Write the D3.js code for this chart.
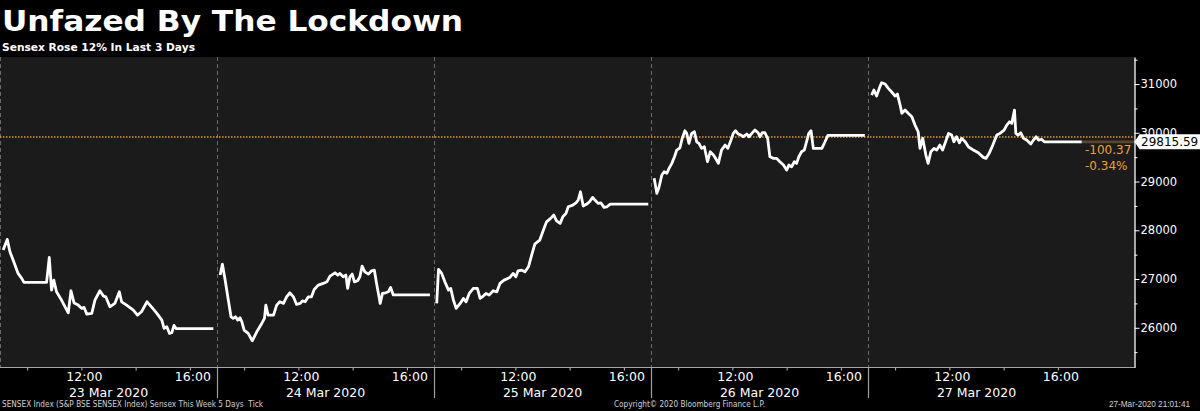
<!DOCTYPE html>
<html><head><meta charset="utf-8">
<script src="https://cdn.jsdelivr.net/npm/d3@7"></script>
<style>body{margin:0;background:#000;} svg{display:block;}</style>
</head><body>
<svg id="c" width="1200" height="411"></svg>
<script>
// ---------- data ----------
const days = ["23 Mar 2020","24 Mar 2020","25 Mar 2020","26 Mar 2020","27 Mar 2020"];

const day1 = [["09:07",27594],["09:16",27813],["09:22",27559],["09:29",27388],["09:40",27115],["09:48",27013],["09:53",26931],["10:43",26931],["10:49",27444],["10:54",26773],["10:59",26978],["11:05",26738],["11:16",26568],["11:31",26307],["11:37",26759],["11:44",26506],["11:53",26465],["12:01",26397],["12:06",26418],["12:12",26280],["12:23",26295],["12:30",26568],["12:41",26759],["12:49",26650],["12:54",26635],["13:03",26430],["13:14",26500],["13:24",26738],["13:29",26533],["13:40",26465],["13:55",26362],["14:04",26260],["14:13",26328],["14:25",26533],["14:36",26418],["14:47",26295],["14:58",26157],["15:03",25987],["15:09",26020],["15:15",25884],["15:20",25898],["15:25",26048],["15:30",25981],["16:52",25981]];

const day2 = [["09:07",27081],["09:12",27306],["09:18",26978],["09:25",26568],["09:31",26225],["09:36",26192],["09:41",26225],["09:46",26157],["09:51",26205],["09:55",26122],["10:00",25952],["10:09",25884],["10:18",25733],["10:28",25917],["10:39",26089],["10:45",26192],["10:48",26465],["10:53",26260],["11:05",26260],["11:12",26465],["11:19",26533],["11:27",26500],["11:34",26635],["11:41",26718],["11:49",26635],["11:56",26479],["12:04",26500],["12:09",26553],["12:15",26533],["12:22",26635],["12:29",26635],["12:35",26787],["12:44",26875],["12:55",26910],["13:03",26943],["13:10",27060],["13:21",27128],["13:27",27081],["13:32",27116],["13:39",27046],["13:45",27081],["13:49",26808],["13:54",27046],["13:59",27101],["14:04",26943],["14:11",26964],["14:16",27046],["14:21",27265],["14:27",27148],["14:35",27101],["14:42",27169],["14:48",27183],["14:53",26910],["15:01",26500],["15:06",26705],["15:13",26718],["15:19",26738],["15:24",26828],["15:30",26674],["16:51",26674]];

const day3 = [["09:06",26500],["09:10",27198],["09:17",27116],["09:24",26943],["09:32",26773],["09:37",26808],["09:43",26568],["09:49",26397],["09:58",26500],["10:05",26603],["10:11",26533],["10:18",26705],["10:27",26808],["10:36",26808],["10:42",26603],["10:49",26650],["10:55",26705],["11:02",26670],["11:11",26759],["11:19",26738],["11:26",26910],["11:35",26978],["11:48",27033],["11:55",27116],["12:01",27046],["12:06",27169],["12:14",27183],["12:21",27148],["12:29",27251],["12:36",27491],["12:43",27717],["12:49",27764],["12:54",27799],["13:02",28004],["13:09",28174],["13:18",28244],["13:25",28312],["13:31",28195],["13:39",28142],["13:45",28277],["13:52",28347],["13:57",28482],["14:07",28517],["14:14",28564],["14:19",28620],["14:24",28790],["14:30",28497],["14:38",28538],["14:44",28585],["14:51",28675],["14:56",28620],["15:03",28552],["15:09",28564],["15:16",28470],["15:22",28482],["15:30",28535],["16:54",28535]];

const day4 = [["09:07",29065],["09:13",28757],["09:18",28893],["09:24",29133],["09:29",29200],["09:35",29168],["09:40",29270],["09:46",29373],["09:52",29508],["09:57",29646],["10:04",29693],["10:09",29886],["10:15",30042],["10:19",29988],["10:24",29783],["10:30",29988],["10:36",30021],["10:41",29816],["10:46",29783],["10:52",29681],["10:58",29713],["11:05",29406],["11:11",29611],["11:18",29543],["11:23",29475],["11:29",29373],["11:36",29646],["11:44",29748],["11:50",29681],["11:57",29851],["12:02",29988],["12:07",30042],["12:13",29974],["12:19",29953],["12:24",29919],["12:32",29974],["12:37",29919],["12:43",29988],["12:50",30056],["12:57",30001],["13:01",29919],["13:06",30001],["13:12",30001],["13:18",29886],["13:23",29508],["13:31",29475],["13:38",29475],["13:45",29406],["13:53",29338],["14:00",29235],["14:05",29338],["14:11",29303],["14:17",29406],["14:22",29373],["14:27",29508],["14:33",29611],["14:39",29646],["14:44",29816],["14:49",29988],["14:54",30042],["14:59",29681],["15:07",29681],["15:18",29681],["15:25",29816],["15:31",29946],["16:53",29946]];

const day5 = [["09:08",30774],["09:13",30877],["09:19",30754],["09:25",30912],["09:30",31027],["09:38",31000],["09:45",30912],["09:52",30842],["10:00",30754],["10:05",30795],["10:11",30569],["10:15",30399],["10:22",30466],["10:29",30399],["10:37",30329],["10:44",30159],["10:51",30021],["10:55",29681],["11:01",29886],["11:08",29543],["11:13",29373],["11:19",29611],["11:26",29681],["11:32",29646],["11:39",29748],["11:45",29646],["11:53",29851],["11:58",29988],["12:05",29953],["12:10",29816],["12:16",29919],["12:22",29795],["12:27",29886],["12:35",29816],["12:42",29713],["12:53",29646],["13:04",29590],["13:15",29496],["13:21",29475],["13:28",29578],["13:36",29748],["13:45",29953],["13:52",29988],["14:01",30056],["14:07",30159],["14:13",30226],["14:18",30194],["14:24",30466],["14:27",29988],["14:32",29953],["14:38",30001],["14:44",29886],["14:51",29851],["15:00",29769],["15:06",29851],["15:12",29919],["15:17",29851],["15:24",29865],["15:30",29815.59],["16:53",29815.59]];

const series = [day1, day2, day3, day4, day5];
const yTicks = [26000, 27000, 28000, 29000, 30000, 31000];
const yMinorTicks = [25500, 26500, 27500, 28500, 29500, 30500, 31500];
const timeLabels = ["12:00", "16:00"];
const timeMinorTicks = ["10:00", "14:00"];
const lastValue = 29815.59;
const prevClose = 29915.96;
const changeText = "-100.37";
const changePctText = "-0.34%";
const titleText = "Unfazed By The Lockdown";
const subtitleText = "Sensex Rose 12% In Last 3 Days";
const footerLeft = "SENSEX Index (S&P BSE SENSEX Index) Sensex This Week 5 Days  Tick";
const footerMid = "Copyright\u00A9 2020 Bloomberg Finance L.P.";
const footerRight = "27-Mar-2020 21:01:41";

// ---------- layout ----------
const svg = d3.select("#c");
const P = {left: 0, right: 1134.5, top: 57, bottom: 367.5};
const toMin = s => { const [h, m] = s.split(":").map(Number); return h * 60 + m; };

const dayBand = d3.scaleBand().domain(days).range([0, 1085]);
const intraday = d3.scaleLinear().domain([540, 1020]).range([0, dayBand.bandwidth()]);
const y = d3.scaleLinear().domain([25185, 31555]).range([P.bottom, P.top]);

svg.append("rect").attr("width", 1200).attr("height", 411).attr("fill", "#000");
svg.append("rect").attr("x", P.left).attr("y", P.top)
  .attr("width", P.right - P.left).attr("height", P.bottom - P.top).attr("fill", "#1b1b1b");

// title
svg.append("text").attr("x", 2).attr("y", 31).text(titleText)
  .attr("font-family", "DejaVu Sans").attr("font-weight", "bold").attr("font-size", 29)
  .attr("fill", "#fff").attr("textLength", 461).attr("lengthAdjust", "spacingAndGlyphs");
svg.append("text").attr("x", 2).attr("y", 51).text(subtitleText)
  .attr("font-family", "DejaVu Sans").attr("font-weight", "bold").attr("font-size", 10.6)
  .attr("fill", "#fff").attr("textLength", 193).attr("lengthAdjust", "spacingAndGlyphs");

// day separators
const sepX = [0.5].concat(days.slice(1).map(d => Math.round(dayBand(d)) + 0.5));
svg.append("g").selectAll("line").data(sepX).join("line")
  .attr("x1", d => d).attr("x2", d => d).attr("y1", P.top).attr("y2", P.bottom)
  .attr("stroke", "#6a6a6a").attr("stroke-width", 1).attr("stroke-dasharray", "4,3");
svg.append("g").selectAll("line").data(sepX.slice(1)).join("line")
  .attr("x1", d => d).attr("x2", d => d).attr("y1", P.bottom).attr("y2", 398)
  .attr("stroke", "#a0a0a0").attr("stroke-width", 1.2);

// previous close dotted line
svg.append("line").attr("x1", P.left).attr("x2", P.right)
  .attr("y1", y(prevClose)).attr("y2", y(prevClose))
  .attr("stroke", "#e8962c").attr("stroke-width", 1.5).attr("stroke-dasharray", "1.5,1.5");

// price lines
const line = d3.line();
series.forEach((data, i) => {
  const x0 = dayBand(days[i]);
  svg.append("path")
    .attr("d", line.x(d => x0 + intraday(toMin(d[0]))).y(d => y(d[1]))(data))
    .attr("fill", "none").attr("stroke", "#fff").attr("stroke-width", 2.8)
    .attr("stroke-linejoin", "round").attr("stroke-linecap", "butt");
});

// last value extension (brown)
const lastDay = series[series.length - 1];
const lastX = dayBand(days[days.length - 1]) + intraday(toMin(lastDay[lastDay.length - 1][0]));
svg.append("line").attr("x1", lastX).attr("x2", P.right)
  .attr("y1", y(lastValue)).attr("y2", y(lastValue))
  .attr("stroke", "#5e4331").attr("stroke-width", 2.7);

// change labels
svg.append("text").attr("x", 1085).attr("y", 153.5).text(changeText)
  .attr("font-family", "DejaVu Sans").attr("font-size", 12).attr("fill", "#f0a030");
svg.append("text").attr("x", 1085).attr("y", 169.5).text(changePctText)
  .attr("font-family", "DejaVu Sans").attr("font-size", 12).attr("fill", "#f0a030");

// bottom border
svg.append("line").attr("x1", P.left).attr("x2", P.right)
  .attr("y1", P.bottom).attr("y2", P.bottom).attr("stroke", "#a8a8a8").attr("stroke-width", 1.2);

// y axis
const yAxis = d3.axisRight(y).tickValues(yTicks).tickSize(5).tickSizeOuter(0).tickPadding(1)
  .tickFormat(d3.format("d"));
const gy = svg.append("g").attr("transform", `translate(${P.right},0)`).call(yAxis);
gy.select(".domain").attr("stroke", "#fff").attr("stroke-width", 1.3);
gy.selectAll(".tick line").attr("stroke", "#fff");
gy.selectAll(".tick text").attr("fill", "#fff").attr("font-family", "DejaVu Sans").attr("font-size", 11.5);
const gyMinor = svg.append("g").attr("transform", `translate(${P.right},0)`)
  .call(d3.axisRight(y).tickValues(yMinorTicks).tickSize(3).tickFormat(""));
gyMinor.select(".domain").remove();
gyMinor.selectAll(".tick line").attr("stroke", "#fff");

// x axes per day
days.forEach((d, i) => {
  const g = svg.append("g").attr("transform", `translate(${dayBand(d)},${P.bottom})`);
  const ax = d3.axisBottom(intraday)
    .tickValues(timeMinorTicks.concat(timeLabels).map(toMin))
    .tickSize(3).tickSizeOuter(0).tickPadding(1.5)
    .tickFormat(v => timeLabels.map(toMin).includes(v) ? d3.timeFormat("%H:%M")(new Date(2020, 2, 23, Math.floor(v / 60), v % 60)) : "");
  g.call(ax);
  g.select(".domain").remove();
  g.selectAll(".tick line").attr("stroke", "#bbb");
  g.selectAll(".tick text").attr("fill", "#fff").attr("font-family", "DejaVu Sans")
    .attr("font-size", 12.5).attr("dx", 2.5);
  g.append("text").attr("x", dayBand.bandwidth() / 2).attr("y", 397 - P.bottom)
    .attr("text-anchor", "middle").text(d)
    .attr("fill", "#fff").attr("font-family", "DejaVu Sans").attr("font-size", 12.5);
});

// last value box
const ly = y(lastValue);
const bx = P.right;
svg.append("path")
  .attr("d", `M${bx},${ly} L${bx + 5},${ly - 7.5} L1200,${ly - 7.5} L1200,${ly + 7.5} L${bx + 5},${ly + 7.5} Z`)
  .attr("fill", "#fff");
svg.append("text").attr("x", 1141).attr("y", ly + 4.3).text(d3.format(".2f")(lastValue))
  .attr("font-family", "DejaVu Sans").attr("font-size", 12).attr("fill", "#000");

// footer
const foot = svg.append("g").attr("font-family", "DejaVu Sans").attr("font-size", 8.5).attr("fill", "#d0d0d0");
foot.append("text").attr("x", 2).attr("y", 407).text(footerLeft).style("white-space", "pre")
  .attr("textLength", 261).attr("lengthAdjust", "spacingAndGlyphs");
foot.append("text").attr("x", 614).attr("y", 407).text(footerMid)
  .attr("textLength", 151).attr("lengthAdjust", "spacingAndGlyphs");
foot.append("text").attr("x", 1190).attr("y", 407).attr("text-anchor", "end").text(footerRight)
  .attr("font-family", "Liberation Sans").attr("font-size", 8.2);
</script>
</body></html>
